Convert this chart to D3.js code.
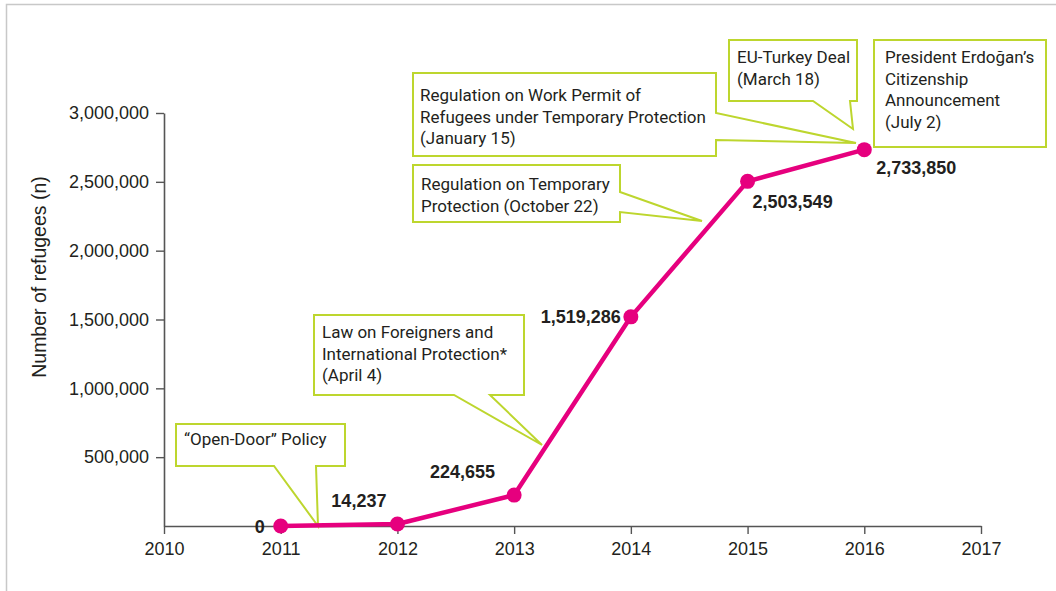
<!DOCTYPE html>
<html>
<head>
<meta charset="utf-8">
<script src="https://cdn.jsdelivr.net/npm/d3@7"></script>
<style>
  body { margin: 0; background: #fff; }
  svg text { fill: #231f20; }
</style>
</head>
<body>
<div id="chart"></div>
<script>
// Data
const years = [2011, 2012, 2013, 2014, 2015, 2016];
const refugees = [0, 14237, 224655, 1519286, 2503549, 2733850];
const xTicks = [2010, 2011, 2012, 2013, 2014, 2015, 2016, 2017];
const yTicks = [500000, 1000000, 1500000, 2000000, 2500000, 3000000];
const noteLines = [
  ['\u201cOpen-Door\u201d Policy'],
  ['Law on Foreigners and', 'International Protection*', '(April 4)'],
  ['Regulation on Temporary', 'Protection (October 22)'],
  ['Regulation on Work Permit of', 'Refugees under Temporary Protection', '(January 15)'],
  ['EU-Turkey Deal', '(March 18)'],
  ['President Erdo\u011fan\u2019s', 'Citizenship', 'Announcement', '(July 2)']
];

const width = 1056;
const height = 591;
const green = '#bdd62e';
const pink = '#e6007e';

// label offsets from each point (px)
const labelOffsets = [
  { dx: -16, dy: 7, anchor: 'end' },
  { dx: -11, dy: -17, anchor: 'end' },
  { dx: -19, dy: -17, anchor: 'end' },
  { dx: -10, dy: 6, anchor: 'end' },
  { dx: 5, dy: 27, anchor: 'start' },
  { dx: 12, dy: 24, anchor: 'start' }
];

// callout layout: box, pointer side, pointer base, tip, text baseline
const noteLayout = [
  { x: 176, y: 424, w: 169, h: 42, side: 'bottom', b1: 274, b2: 316, tip: [318, 526], tx: 184, ty: 445 },
  { x: 314, y: 315, w: 210, h: 80, side: 'bottom', b1: 454, b2: 490, tip: [542, 445], tx: 322, ty: 338 },
  { x: 413, y: 165, w: 207, h: 57, side: 'right', b1: 192, b2: 212, tip: [702, 221], tx: 421, ty: 190 },
  { x: 413, y: 73, w: 303, h: 83, side: 'right', b1: 113, b2: 140, tip: [856, 143], tx: 420, ty: 101 },
  { x: 729, y: 40, w: 128, h: 61, side: 'bottom', b1: 813, b2: 850, tip: [853, 129], tx: 737, ty: 63 },
  { x: 874, y: 40, w: 172, h: 107, side: 'none', tx: 885, ty: 63 }
];
const lineHeight = 21.6;

const x = d3.scaleLinear().domain([2010, 2017]).range([164, 981]);
const y = d3.scaleLinear().domain([0, 3000000]).range([526, 113]);

const svg = d3.select('#chart')
  .append('svg')
  .attr('width', width)
  .attr('height', height)
  .style('font-family', '"Liberation Sans", Arial, sans-serif');

// frame
svg.append('path')
  .attr('d', `M6.5,${height} V4.5 H${width}`)
  .attr('fill', 'none')
  .attr('stroke', '#c8c8c8')
  .attr('stroke-width', 1.5);

// axes
const yAxis = svg.append('g')
  .attr('transform', `translate(${x(2010)},0)`)
  .call(d3.axisLeft(y).tickValues(yTicks).tickSize(8).tickSizeOuter(0).tickPadding(7).tickFormat(d3.format(',')));

const xAxis = svg.append('g')
  .attr('transform', `translate(0,${y(0)})`)
  .call(d3.axisBottom(x).tickValues(xTicks).tickSize(8).tickSizeOuter(0).tickPadding(8).tickFormat(d3.format('d')));

[yAxis, xAxis].forEach(g => {
  g.select('.domain').attr('stroke', '#555').attr('stroke-width', 1.6);
  g.selectAll('.tick line').attr('stroke', '#555').attr('stroke-width', 1.4);
  g.selectAll('.tick text').attr('font-size', '18px').attr('fill', '#231f20')
    .style('font-family', '"Liberation Sans", Arial, sans-serif');
});

// y-axis title
svg.append('text')
  .attr('transform', 'rotate(-90)')
  .attr('x', -277)
  .attr('y', 46)
  .attr('text-anchor', 'middle')
  .attr('font-size', '19.5px')
  .text('Number of refugees (n)');

// callouts
function calloutPath(l) {
  const r = l.x + l.w, b = l.y + l.h;
  let pts;
  if (l.side === 'bottom') {
    pts = [[l.x, l.y], [r, l.y], [r, b], [l.b2, b], l.tip, [l.b1, b], [l.x, b]];
  } else if (l.side === 'right') {
    pts = [[l.x, l.y], [r, l.y], [r, l.b1], l.tip, [r, l.b2], [r, b], [l.x, b]];
  } else {
    pts = [[l.x, l.y], [r, l.y], [r, b], [l.x, b]];
  }
  return d3.line()(pts) + 'Z';
}

const notes = svg.append('g')
  .selectAll('g')
  .data(noteLines)
  .join('g');

notes.append('path')
  .attr('d', (d, i) => calloutPath(noteLayout[i]))
  .attr('fill', '#fff')
  .attr('stroke', green)
  .attr('stroke-width', 2)
  .attr('stroke-linejoin', 'miter');

notes.append('text')
  .attr('font-size', '17px')
  .style('font-family', 'Roboto, sans-serif')
  .each(function (d, i) {
    const l = noteLayout[i];
    d3.select(this).selectAll('tspan')
      .data(d)
      .join('tspan')
      .attr('x', l.tx)
      .attr('y', (s, k) => l.ty + k * lineHeight)
      .text(s => s);
  });

// line
const pts = years.map((yr, i) => ({ year: yr, value: refugees[i] }));

svg.append('path')
  .datum(pts)
  .attr('fill', 'none')
  .attr('stroke', pink)
  .attr('stroke-width', 4.5)
  .attr('stroke-linejoin', 'round')
  .attr('d', d3.line().x(d => x(d.year)).y(d => y(d.value)));

svg.append('g')
  .selectAll('circle')
  .data(pts)
  .join('circle')
  .attr('cx', d => x(d.year))
  .attr('cy', d => y(d.value))
  .attr('r', 7.5)
  .attr('fill', pink);

// value labels
svg.append('g')
  .selectAll('text')
  .data(pts)
  .join('text')
  .attr('x', (d, i) => x(d.year) + labelOffsets[i].dx)
  .attr('y', (d, i) => y(d.value) + labelOffsets[i].dy)
  .attr('text-anchor', (d, i) => labelOffsets[i].anchor)
  .attr('font-size', '18px')
  .attr('font-weight', 'bold')
  .text(d => d3.format(',')(d.value));
</script>
</body>
</html>
